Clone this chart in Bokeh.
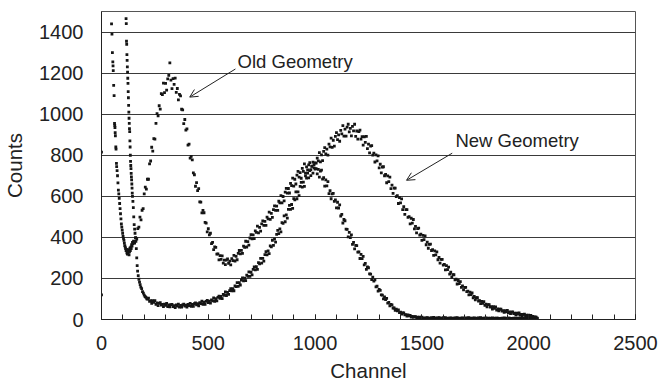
from bokeh.plotting import figure
from bokeh.models import Range1d, FixedTicker, Arrow, OpenHead, Label
from bokeh.embed import file_html
from bokeh.resources import INLINE

FONT = "Liberation Sans"

# ---------------- data ----------------
# Old Geometry: low-channel region (fine sampling), then every 5 channels from 150
old_ch_low = [0, 47, 49, 51, 53, 54, 55, 57, 59, 61, 62, 63, 64, 65, 67, 68, 70, 71, 73, 75,
              77, 79, 81, 83, 85, 87, 89, 91, 93, 95, 97, 99, 101, 103, 105, 107, 109, 111, 113, 115,
              117, 119, 121, 123, 125, 127, 129, 131, 133, 135, 137, 139, 141, 143, 145, 147]
old_counts_low = [815, 1440, 1390, 1300, 1255, 1235, 1212, 1140, 1090, 955, 945, 935, 910, 895, 840, 830, 760, 745, 725, 700,
                  665, 630, 612, 590, 565, 540, 515, 490, 465, 450, 435, 420, 405, 395, 385, 372, 360, 352, 345, 335,
                  342, 325, 318, 335, 322, 340, 315, 330, 348, 336, 352, 345, 365, 358, 376, 370]
old_main_start = 150
old_counts_main = [
    382, 372, 399, 392, 443, 450, 499, 485, 532, 540, 612,
    645, 635, 683, 683, 758, 772, 839, 820, 881, 878, 955,
    1003, 992, 1041, 1025, 1100, 1095, 1151, 1105, 1150, 1117, 1172,
    1189, 1250, 1166, 1124, 1173, 1145, 1176, 1106, 1125, 1070, 1096,
    1089, 1024, 1021, 954, 974, 922, 928, 849, 854, 786, 794,
    777, 714, 705, 649, 667, 628, 637, 573, 572, 519, 531,
    520, 473, 469, 427, 442, 412, 420, 370, 376, 340, 354,
    351, 318, 320, 290, 311, 293, 310, 275, 289, 267, 289,
    295, 273, 284, 266, 296, 287, 312, 285, 307, 291, 322,
    336, 320, 337, 322, 357, 351, 381, 353, 379, 362, 397,
    413, 393, 412, 394, 432, 424, 455, 422, 449, 430, 466,
    480, 458, 478, 458, 499, 490, 523, 488, 517, 497, 535,
    553, 531, 552, 531, 576, 568, 603, 568, 599, 578, 620,
    639, 615, 638, 616, 663, 652, 689, 650, 683, 660, 703,
    721, 693, 715, 688, 736, 721, 758, 713, 743, 713, 753,
    764, 730, 746, 713, 754, 733, 762, 709, 731, 693, 723,
    727, 684, 691, 650, 680, 651, 671, 613, 627, 588, 612,
    614, 575, 582, 544, 571, 543, 558, 504, 512, 470, 487,
    481, 440, 439, 402, 424, 399, 412, 366, 376, 344, 361,
    360, 328, 329, 297, 317, 296, 307, 266, 273, 244, 256,
    252, 222, 221, 194, 206, 187, 193, 159, 162, 138, 146,
    142, 120, 119, 100, 110, 97, 103, 80, 83, 67, 73,
    71, 56, 56, 44, 51, 42, 47, 33, 36, 26, 32,
    32, 23, 24, 16, 22, 18, 20, 12, 15, 10, 14,
    14, 9, 11, 6, 11, 8, 11,
    5, 8, 5, 8, 9, 6, 7, 4, 9, 7, 10, 5, 8, 5, 8, 9, 6, 7, 4, 9,
    6, 9, 4, 7, 4, 7, 8, 5, 6, 3, 8, 6, 9, 4, 7, 4, 7, 8, 5, 6,
    3, 8, 6, 9, 4, 7, 4, 7, 8, 5, 6, 3, 8, 6, 9, 4, 7, 4, 7, 8,
    5, 6, 3, 7, 5, 8, 4, 6, 3, 6, 7, 4, 5, 3, 7, 5, 8, 4, 6, 3,
    6, 7, 4, 5, 3, 7, 5, 8, 4, 6, 3, 6, 7, 4, 5, 3, 7, 5, 7, 4,
    5, 3, 5, 6, 3, 4, 2, 4,
]

# New Geometry: low-channel region (fine sampling), then every 5 channels from 220
new_ch_low = [0, 115, 116, 117, 118, 119, 120, 121, 122, 123, 124, 125, 126, 127, 128, 129, 130,
              131, 132, 133, 134, 135, 136, 137, 138, 139, 140, 141, 142, 143, 144, 145,
              147, 149, 151, 153, 155, 157, 159, 161, 163, 165, 167, 169, 172, 175, 178, 181, 184,
              188, 192, 196, 200, 204, 208, 212, 216]
new_counts_low = [120, 1465, 1441, 1355, 1340, 1290, 1262, 1230, 1205, 1175, 1150, 1110, 1080, 1043, 1010, 980, 955,
                  930, 915, 870, 840, 800, 770, 750, 735, 712, 695, 680, 660, 640, 615, 600,
                  575, 545, 500, 462, 440, 420, 398, 380, 345, 300, 262, 236, 214, 196, 182, 170, 158,
                  150, 136, 128, 119, 112, 108, 101, 99]
new_main_start = 220
new_counts_main = [
    104, 88, 92, 79, 92, 83, 92, 74, 81, 68, 79,
    82, 70, 74, 63, 75, 69, 79, 63, 71, 61, 72,
    74, 63, 68, 58, 71, 65, 75, 60, 69, 60, 71,
    75, 65, 70, 60, 73, 68, 79, 64, 74, 64, 77,
    81, 71, 77, 67, 82, 77, 89, 74, 84, 74, 88,
    93, 82, 89, 80, 96, 91, 105, 89, 101, 91, 108,
    114, 103, 112, 102, 122, 118, 134, 117, 132, 122, 141,
    150, 139, 150, 140, 164, 160, 180, 161, 179, 168, 192,
    202, 188, 201, 189, 216, 210, 232, 210, 230, 217, 244,
    256, 242, 257, 244, 277, 271, 298, 275, 298, 284, 316,
    331, 315, 334, 321, 359, 354, 386, 361, 391, 377, 415,
    434, 418, 441, 427, 472, 468, 505, 476, 510, 494, 536,
    556, 536, 560, 541, 589, 583, 622, 588, 622, 603, 648,
    668, 645, 669, 648, 699, 689, 729, 690, 725, 701, 747,
    766, 738, 763, 735, 786, 773, 813, 768, 802, 774, 819,
    837, 806, 830, 801, 854, 841, 883, 838, 873, 844, 892,
    910, 876, 899, 868, 921, 904, 944, 893, 927, 893, 937,
    951, 914, 931, 894, 941, 919, 951, 892, 918, 878, 915,
    922, 878, 891, 849, 890, 863, 892, 832, 854, 811, 844,
    847, 801, 810, 767, 802, 773, 797, 738, 756, 714, 742,
    744, 700, 707, 666, 699, 671, 693, 637, 654, 614, 640,
    640, 598, 603, 565, 594, 568, 587, 535, 549, 512, 535,
    535, 497, 501, 466, 493, 469, 487, 441, 454, 422, 443,
    445, 411, 416, 385, 410, 389, 407, 364, 377, 347, 366,
    367, 336, 340, 312, 334, 315, 329, 291, 302, 275, 293,
    293, 265, 268, 242, 262, 243, 255, 221, 230, 205, 219,
    218, 193, 196, 173, 190, 175, 184, 156, 164, 144, 156,
    156, 136, 138, 120, 133, 121, 129, 106, 112, 96, 106,
    106, 90, 92, 77, 88, 79, 87, 69, 75, 62, 72,
    72, 60, 63, 51, 62, 54, 61, 46, 52, 42, 50,
    51, 41, 43, 35, 43, 37, 44, 32, 37, 29, 36,
    37, 29, 31, 24, 31, 26, 32, 21, 25, 19, 25,
    26, 19, 21, 15, 21, 17, 20, 12, 15, 9, 13,
    12, 7,
]

x_ticks = [0, 500, 1000, 1500, 2000, 2500]
x_minor_ticks = list(range(0, 2501, 100))
y_ticks = [0, 200, 400, 600, 800, 1000, 1200, 1400]

x_title = "Channel"
y_title = "Counts"
old_label = "Old Geometry"
new_label = "New Geometry"

# ---------------- build ----------------
old_x = old_ch_low + list(range(old_main_start, old_main_start + 5 * len(old_counts_main), 5))
old_y = old_counts_low + old_counts_main
new_x = new_ch_low + list(range(new_main_start, new_main_start + 5 * len(new_counts_main), 5))
new_y = new_counts_low + new_counts_main

p = figure(width=662, height=385,
           x_range=Range1d(0, 2500), y_range=Range1d(0, 1500),
           output_backend="svg", toolbar_location=None,
           min_border_left=101, min_border_right=27,
           min_border_top=11, min_border_bottom=66)
p.background_fill_color = "white"
p.border_fill_color = "white"
p.outline_line_color = "#555555"
p.outline_line_width = 1

p.xgrid.visible = False
p.ygrid.ticker = FixedTicker(ticks=y_ticks)
p.ygrid.grid_line_color = "#3a3a3a"
p.ygrid.grid_line_width = 1

xa = p.xaxis[0]
xa.ticker = FixedTicker(ticks=x_ticks, minor_ticks=x_minor_ticks)
xa.major_tick_in = 5
xa.major_tick_out = 0
xa.minor_tick_in = 5
xa.minor_tick_out = 0
xa.major_tick_line_color = "#222222"
xa.minor_tick_line_color = "#222222"
xa.axis_line_color = "#222222"
xa.major_label_text_font = FONT
xa.major_label_text_font_size = "20px"
xa.major_label_text_color = "#222222"
xa.major_label_standoff = 16
xa.axis_label = x_title
xa.axis_label_text_font = FONT
xa.axis_label_text_font_size = "20.5px"
xa.axis_label_text_font_style = "normal"
xa.axis_label_text_color = "#222222"
xa.axis_label_standoff = 6

ya = p.yaxis[0]
ya.ticker = FixedTicker(ticks=y_ticks)
ya.major_tick_in = 0
ya.major_tick_out = 0
ya.minor_tick_line_color = None
ya.axis_line_color = "#222222"
ya.major_label_text_font = FONT
ya.major_label_text_font_size = "20px"
ya.major_label_text_color = "#222222"
ya.major_label_standoff = 18
ya.axis_label = y_title
ya.axis_label_text_font = FONT
ya.axis_label_text_font_size = "20.5px"
ya.axis_label_text_font_style = "normal"
ya.axis_label_text_color = "#222222"
ya.axis_label_standoff = 10

p.scatter(old_x, old_y, marker="square", size=2.8, fill_color="#151515", line_color=None)
p.scatter(new_x, new_y, marker="square", size=2.8, fill_color="#151515", line_color=None)

p.add_layout(Label(x=637, y=1258, text=old_label, text_font=FONT, text_font_size="18.5px",
                   text_color="#222222", text_baseline="alphabetic"))
p.add_layout(Arrow(end=OpenHead(size=8, line_color="#222222", line_width=1),
                   x_start=627, y_start=1220, x_end=413, y_end=1083,
                   line_color="#222222", line_width=1))
p.add_layout(Label(x=1657, y=871, text=new_label, text_font=FONT, text_font_size="18.5px",
                   text_color="#222222", text_baseline="alphabetic"))
p.add_layout(Arrow(end=OpenHead(size=8, line_color="#222222", line_width=1),
                   x_start=1642, y_start=810, x_end=1428, y_end=678,
                   line_color="#222222", line_width=1))

open("out.html", "w").write(file_html(p, INLINE))
